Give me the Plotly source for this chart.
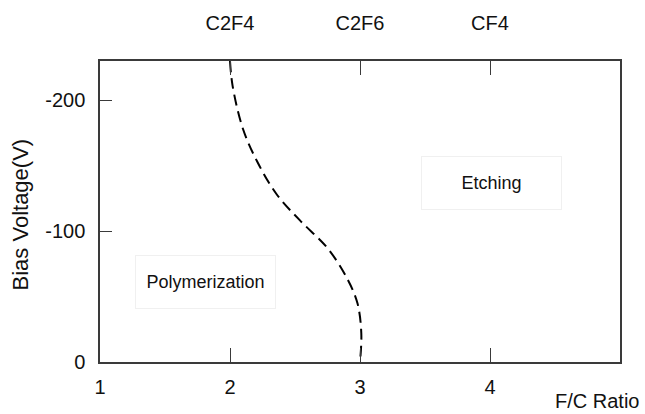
import plotly.graph_objects as go

# Data
boundary_fc = [2.0, 2.02, 2.10, 2.21, 2.36, 2.54, 2.75, 2.90, 2.98, 3.01, 3.0]
boundary_bias = [-230, -211, -178, -153, -128, -108, -87, -64, -45, -22, 0]

x_ticks = [1, 2, 3, 4]
top_tick_vals = [2, 3, 4]
top_tick_text = ["C2F4", "C2F6", "CF4"]
y_ticks = [0, -100, -200]

regions = ["Polymerization", "Etching"]
region_x = [1.81, 4.01]
region_y = [-61, -137]

FONT = "Liberation Sans, Arial, sans-serif"
AX = "#3a3a3a"
TXT = "#111"

fig = go.Figure()
fig.add_trace(go.Scatter(
    x=boundary_fc, y=boundary_bias, mode="lines",
    line=dict(color="black", width=2, dash="11px,6px", shape="spline", smoothing=1.0),
    showlegend=False, hoverinfo="skip",
))
# invisible trace for top axis
fig.add_trace(go.Scatter(x=[1, 5], y=[0, 0], xaxis="x2", mode="markers",
                         marker=dict(opacity=0), showlegend=False, hoverinfo="skip"))

fig.update_layout(
    width=645, height=414,
    margin=dict(l=100, r=25, t=58, b=52),
    paper_bgcolor="white", plot_bgcolor="white",
    font=dict(family=FONT, size=20, color=TXT),
    xaxis=dict(range=[1, 5], tickvals=x_ticks, ticks="inside", ticklen=14, tickwidth=1.2,
               tickcolor=AX, showline=True, linecolor=AX, linewidth=1.5, mirror=False,
               showgrid=False, zeroline=False, ticklabelstandoff=6,
               tickfont=dict(size=20)),
    xaxis2=dict(range=[1, 5], overlaying="x", side="top", tickvals=top_tick_vals,
                ticktext=top_tick_text, ticks="inside", ticklen=14, tickwidth=1.2,
                tickcolor=AX, showline=True, linecolor=AX, linewidth=1.5,
                showgrid=False, zeroline=False, ticklabelstandoff=21,
                tickfont=dict(size=20)),
    yaxis=dict(range=[0, -230], tickvals=y_ticks, ticktext=["0", "-100", "-200"],
               ticks="inside", ticklen=12, tickwidth=1.2, tickcolor=AX,
               showline=True, linecolor=AX, linewidth=1.5, mirror=True,
               showgrid=False, zeroline=False, ticklabelstandoff=9,
               tickfont=dict(size=20)),
)

for name, xv, yv in zip(regions, region_x, region_y):
    fig.add_annotation(x=xv, y=yv, text=name, showarrow=False,
                       font=dict(family=FONT, size=18, color=TXT),
                       bordercolor="#f0f0f0", borderwidth=1, width=137, height=50,
                       bgcolor="rgba(255,255,255,0)")

fig.add_annotation(xref="paper", yref="paper", x=0.956, y=-0.131,
                   xanchor="center", yanchor="middle", text="F/C Ratio",
                   borderpad=0, showarrow=False, font=dict(family=FONT, size=20, color=TXT))
fig.add_annotation(xref="paper", yref="paper", x=-0.152, y=0.49, xanchor="center",
                   yanchor="middle", text="Bias Voltage(V)", textangle=-90,
                   showarrow=False, font=dict(family=FONT, size=22, color=TXT))

fig.write_html("out.html")
